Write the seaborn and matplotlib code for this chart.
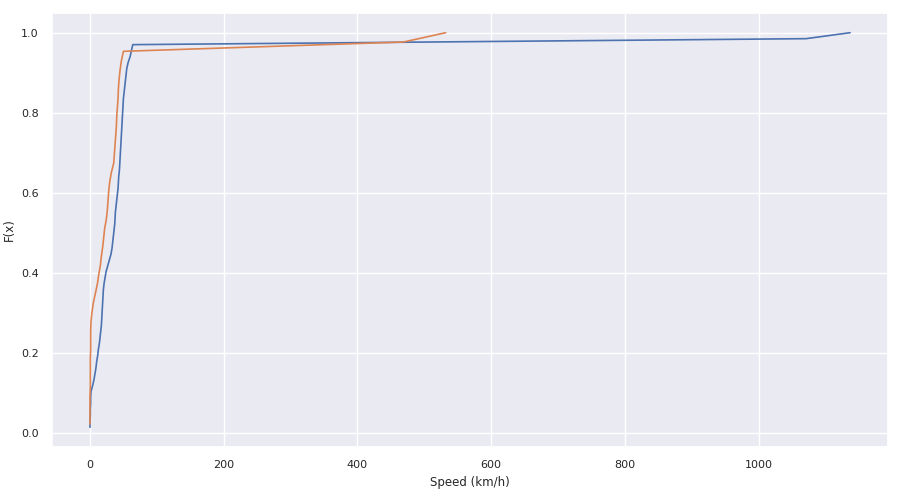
import numpy as np
import pandas as pd
import matplotlib
matplotlib.use("Agg")
import matplotlib.pyplot as plt
import seaborn as sns

# Sorted speed samples (km/h) for the two series
speed_a = [0, 0, 0.5, 0.5, 1, 1, 1.5, 4, 6, 7.5, 9, 10, 11.5, 12.5, 14, 15, 16, 17,
           17.5, 18, 18.5, 19, 19.5, 20, 21, 22.5, 24, 26.5, 29, 31.5, 33, 34, 35,
           36, 37, 37.5, 38, 39, 40, 41, 42, 42.5, 43, 44, 44.5, 45, 45.5, 46, 46.5,
           47, 47.5, 48, 48.5, 49, 49.5, 50, 51, 52, 53, 54, 55, 57, 60, 62, 64,
           1071, 1137]
speed_b = [0, 0, 0, 0, 0.5, 0.5, 0.5, 0.5, 1, 1, 1, 1.5, 3, 5, 8, 11, 13, 15.5, 17,
           19, 20.5, 22, 24.5, 26, 27, 28, 29.5, 32, 35.5, 36.5, 37.5, 38.5, 39.5,
           40, 41, 42, 42.5, 43.5, 45, 47, 50, 469, 532]

x_label = "Speed (km/h)"
y_label = "F(x)"

sns.set_theme(style="darkgrid")
fig = plt.figure(figsize=(9.01, 4.91), dpi=100)
ax = fig.add_axes([0.0577, 0.0896, 0.928, 0.884])

pal = sns.color_palette("deep")
for vals, col in [(speed_a, pal[0]), (speed_b, pal[1])]:
    n = len(vals)
    df = pd.DataFrame({"x": vals, "F": np.arange(1, n + 1) / n})
    sns.lineplot(data=df, x="x", y="F", ax=ax, color=col, sort=False,
                 estimator=None, linewidth=1.2)

ax.set_xlabel(x_label, fontsize=8.5)
ax.set_ylabel(y_label, fontsize=8.5)
ax.tick_params(labelsize=8)
ax.set_xticks([0, 200, 400, 600, 800, 1000])
fig.savefig("out.png", dpi=100)
